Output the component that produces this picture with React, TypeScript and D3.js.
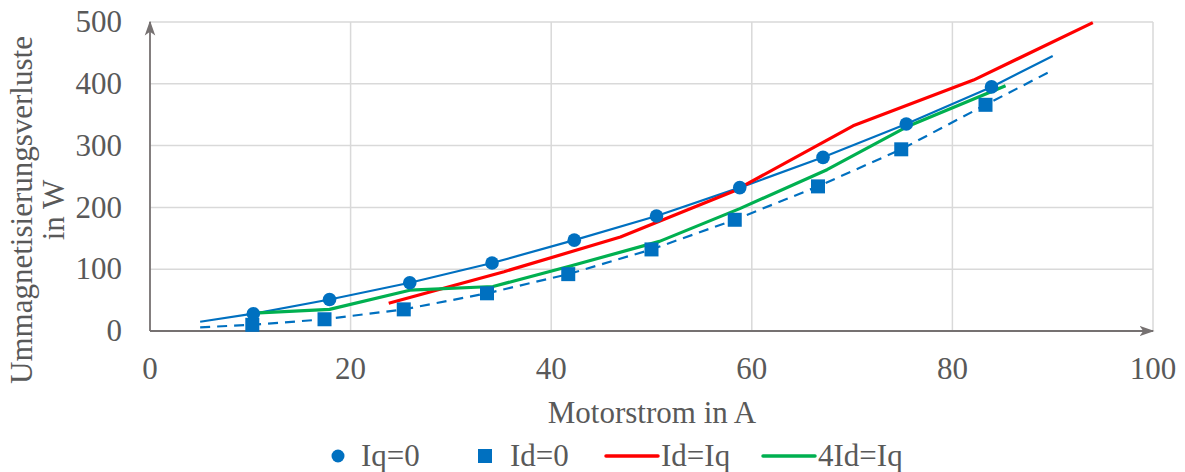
import * as d3 from "d3";
import React, { useEffect, useRef } from "react";

// data
const xTicks = [0, 20, 40, 60, 80, 100];
const yTicks = [0, 100, 200, 300, 400, 500];

// Iq=0 (circles) + its solid line
const iq0Points: [number, number][] = [
  [10.3, 28], [17.9, 51], [25.9, 78], [34.1, 110], [42.3, 147],
  [50.5, 186], [58.8, 232], [67.1, 281], [75.4, 335], [83.9, 395],
];
const iq0Line: [number, number][] = [
  [5, 15], [10.3, 28], [17.9, 51], [25.9, 78], [34.1, 110], [42.3, 147],
  [50.5, 186], [58.8, 232], [67.1, 281], [75.4, 335], [83.9, 395], [90, 445],
];

// Id=0 (squares) + dashed line
const id0Points: [number, number][] = [
  [10.2, 10], [17.4, 19], [25.3, 35], [33.6, 61], [41.7, 92],
  [50, 132], [58.3, 180], [66.6, 234], [74.9, 294], [83.3, 366],
];
const id0Line: [number, number][] = [
  [5, 6], [10.2, 10], [17.4, 19], [25.3, 35], [33.6, 61], [41.7, 92],
  [50, 132], [58.3, 180], [66.6, 234], [74.9, 294], [83.3, 366], [90, 422],
];

// Id=Iq (red)
const idIq: [number, number][] = [
  [23.8, 45], [35.3, 96], [46.9, 152], [58.3, 227], [70.1, 332], [82.1, 406], [94, 499],
];

// 4Id=Iq (green)
const id4Iq: [number, number][] = [
  [10.3, 29], [17.9, 35], [25.9, 66], [34.2, 72], [42.1, 106],
  [50.8, 145], [58.8, 198], [67.5, 261], [75.4, 330], [85.3, 397],
];

const BLUE = "#0070C0";
const RED = "#FF0000";
const GREEN = "#00B050";
const TEXT = "#595959";
const AXIS = "#767171";
const GRID = "#D9D9D9";
const FONT = "'Liberation Serif', 'Times New Roman', serif";
const FS = 31;

function App() {
  const ref = useRef<SVGSVGElement>(null);

  const width = 1185;
  const height = 472;
  const margin = { top: 22, right: 32, bottom: 141, left: 150 };
  const innerW = width - margin.left - margin.right;
  const innerH = height - margin.top - margin.bottom;

  useEffect(() => {
    const svg = d3.select(ref.current);
    svg.selectAll("*").remove();

    const x = d3.scaleLinear().domain([0, 100]).range([0, innerW]);
    const y = d3.scaleLinear().domain([0, 500]).range([innerH, 0]);

    const defs = svg.append("defs");
    defs
      .append("marker")
      .attr("id", "arrow")
      .attr("viewBox", "0 0 10 10")
      .attr("refX", 9)
      .attr("refY", 5)
      .attr("markerWidth", 15)
      .attr("markerHeight", 15)
      .attr("markerUnits", "userSpaceOnUse")
      .attr("orient", "auto")
      .append("path")
      .attr("d", "M0,1.5 L10,5 L0,8.5 L2.5,5 Z")
      .attr("fill", AXIS);

    const g = svg
      .append("g")
      .attr("transform", `translate(${margin.left},${margin.top})`);

    // grid
    g.append("g")
      .selectAll("line")
      .data(yTicks.filter((d) => d > 0))
      .enter()
      .append("line")
      .attr("x1", 0)
      .attr("x2", innerW)
      .attr("y1", (d) => y(d))
      .attr("y2", (d) => y(d))
      .attr("stroke", GRID)
      .attr("stroke-width", 1.5);

    g.append("g")
      .selectAll("line")
      .data(xTicks.filter((d) => d > 0))
      .enter()
      .append("line")
      .attr("x1", (d) => x(d))
      .attr("x2", (d) => x(d))
      .attr("y1", 0)
      .attr("y2", innerH)
      .attr("stroke", GRID)
      .attr("stroke-width", 1.5);

    // axes with arrows
    g.append("line")
      .attr("x1", 0)
      .attr("x2", innerW)
      .attr("y1", innerH)
      .attr("y2", innerH)
      .attr("stroke", AXIS)
      .attr("stroke-width", 1.8)
      .attr("marker-end", "url(#arrow)");
    g.append("line")
      .attr("x1", 0)
      .attr("x2", 0)
      .attr("y1", innerH)
      .attr("y2", 0)
      .attr("stroke", AXIS)
      .attr("stroke-width", 1.8)
      .attr("marker-end", "url(#arrow)");

    // tick labels
    g.append("g")
      .selectAll("text")
      .data(xTicks)
      .enter()
      .append("text")
      .attr("x", (d) => x(d))
      .attr("y", innerH + 48)
      .attr("text-anchor", "middle")
      .attr("font-family", FONT)
      .attr("font-size", FS)
      .attr("fill", TEXT)
      .text((d) => d);

    g.append("g")
      .selectAll("text")
      .data(yTicks)
      .enter()
      .append("text")
      .attr("x", -28)
      .attr("y", (d) => y(d))
      .attr("dy", "0.33em")
      .attr("text-anchor", "end")
      .attr("font-family", FONT)
      .attr("font-size", FS)
      .attr("fill", TEXT)
      .text((d) => d);

    // axis titles
    svg
      .append("text")
      .attr("x", 652)
      .attr("y", 423)
      .attr("text-anchor", "middle")
      .attr("font-family", FONT)
      .attr("font-size", FS)
      .attr("fill", TEXT)
      .text("Motorstrom in A");

    const yt = svg
      .append("text")
      .attr("transform", "translate(32,210) rotate(-90)")
      .attr("text-anchor", "middle")
      .attr("font-family", FONT)
      .attr("font-size", FS)
      .attr("fill", TEXT);
    yt.append("tspan").attr("x", 0).attr("y", 0).text("Ummagnetisierungsverluste");
    yt.append("tspan").attr("x", 0).attr("y", 32).text("in W");

    const line = d3
      .line<[number, number]>()
      .x((d) => x(d[0]))
      .y((d) => y(d[1]));

    // series lines
    g.append("path")
      .datum(id0Line)
      .attr("d", line)
      .attr("fill", "none")
      .attr("stroke", BLUE)
      .attr("stroke-width", 2.2)
      .attr("stroke-dasharray", "10,7");

    g.append("path")
      .datum(iq0Line)
      .attr("d", line)
      .attr("fill", "none")
      .attr("stroke", BLUE)
      .attr("stroke-width", 2.2);

    g.append("path")
      .datum(idIq)
      .attr("d", line)
      .attr("fill", "none")
      .attr("stroke", RED)
      .attr("stroke-width", 3.2)
      .attr("stroke-linejoin", "round");

    g.append("path")
      .datum(id4Iq)
      .attr("d", line)
      .attr("fill", "none")
      .attr("stroke", GREEN)
      .attr("stroke-width", 3.2)
      .attr("stroke-linejoin", "round");

    // markers
    g.append("g")
      .selectAll("rect")
      .data(id0Points)
      .enter()
      .append("rect")
      .attr("x", (d) => x(d[0]) - 7)
      .attr("y", (d) => y(d[1]) - 7)
      .attr("width", 14)
      .attr("height", 14)
      .attr("fill", BLUE);

    g.append("g")
      .selectAll("circle")
      .data(iq0Points)
      .enter()
      .append("circle")
      .attr("cx", (d) => x(d[0]))
      .attr("cy", (d) => y(d[1]))
      .attr("r", 6.8)
      .attr("fill", BLUE);

    // legend
    const lg = svg.append("g").attr("font-family", FONT).attr("font-size", FS).attr("fill", TEXT);
    const ly = 456;
    lg.append("circle").attr("cx", 338).attr("cy", ly).attr("r", 6.5).attr("fill", BLUE);
    lg.append("text").attr("x", 361).attr("y", ly).attr("dy", "0.33em").text("Iq=0");
    lg.append("rect").attr("x", 478).attr("y", ly - 7).attr("width", 14).attr("height", 14).attr("fill", BLUE);
    lg.append("text").attr("x", 510).attr("y", ly).attr("dy", "0.33em").text("Id=0");
    lg.append("line").attr("x1", 606).attr("x2", 658).attr("y1", ly).attr("y2", ly).attr("stroke", RED).attr("stroke-width", 3.5).attr("stroke-linecap", "round");
    lg.append("text").attr("x", 661).attr("y", ly).attr("dy", "0.33em").text("Id=Iq");
    lg.append("line").attr("x1", 763).attr("x2", 815).attr("y1", ly).attr("y2", ly).attr("stroke", GREEN).attr("stroke-width", 3.5).attr("stroke-linecap", "round");
    lg.append("text").attr("x", 818).attr("y", ly).attr("dy", "0.33em").text("4Id=Iq");
  }, []);

  return (
    <div style={{ position: "absolute", left: 0, top: 0, width, height, background: "#fff" }}>
      <svg ref={ref} width={width} height={height} />
    </div>
  );
}

export default App;
